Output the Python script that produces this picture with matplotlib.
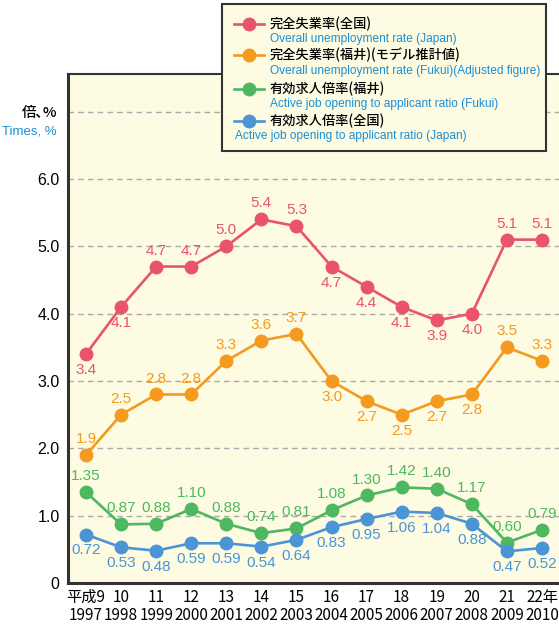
import matplotlib.pyplot as plt
from matplotlib.lines import Line2D
from matplotlib.patches import Rectangle

# 平成9 (1997) - 22 (2010)
heisei = ["平成9", "10", "11", "12", "13", "14", "15", "16", "17", "18", "19", "20", "21", "22年"]
years = ["1997", "1998", "1999", "2000", "2001", "2002", "2003", "2004", "2005", "2006", "2007", "2008", "2009", "2010"]

unemp_japan = [3.4, 4.1, 4.7, 4.7, 5.0, 5.4, 5.3, 4.7, 4.4, 4.1, 3.9, 4.0, 5.1, 5.1]
unemp_fukui = [1.9, 2.5, 2.8, 2.8, 3.3, 3.6, 3.7, 3.0, 2.7, 2.5, 2.7, 2.8, 3.5, 3.3]
jobs_fukui = [1.35, 0.87, 0.88, 1.10, 0.88, 0.74, 0.81, 1.08, 1.30, 1.42, 1.40, 1.17, 0.60, 0.79]
jobs_japan = [0.72, 0.53, 0.48, 0.59, 0.59, 0.54, 0.64, 0.83, 0.95, 1.06, 1.04, 0.88, 0.47, 0.52]

# label above (+1) or below (-1) the point
pos_unemp_japan = [-1, -1, 1, 1, 1, 1, 1, -1, -1, -1, -1, -1, 1, 1]
pos_unemp_fukui = [1, 1, 1, 1, 1, 1, 1, -1, -1, -1, -1, -1, 1, 1]
pos_jobs_fukui = [1] * 14
pos_jobs_japan = [-1] * 14

legend_jp = ["完全失業率(全国)", "完全失業率(福井)(モデル推計値)", "有効求人倍率(福井)", "有効求人倍率(全国)"]
legend_en = ["Overall unemployment rate (Japan)", "Overall unemployment rate (Fukui)(Adjusted figure)",
             "Active job opening to applicant ratio (Fukui)", "Active job opening to applicant ratio (Japan)"]

RED = "#e9546b"
ORANGE = "#f39a1f"
GREEN = "#4db85f"
BLUE = "#4b94d6"
TXTBLUE = "#1a8fd6"
BG = "#fdfbe2"

NUM = ["Liberation Sans Narrow", "Liberation Sans", "DejaVu Sans"]
JP = ["Noto Sans CJK JP", "DejaVu Sans"]

W, H = 559, 626
fig = plt.figure(figsize=(W / 100, H / 100), dpi=100)


def fx(x):
    return x / W


def fy(y):
    return 1 - y / H


ax = fig.add_axes([fx(68), fy(583), 1 - fx(68), fy(74) - fy(583)])
ax.set_facecolor(BG)
x = list(range(len(years)))

series = [(unemp_japan, RED, pos_unemp_japan, "{:.1f}"),
          (unemp_fukui, ORANGE, pos_unemp_fukui, "{:.1f}"),
          (jobs_fukui, GREEN, pos_jobs_fukui, "{:.2f}"),
          (jobs_japan, BLUE, pos_jobs_japan, "{:.2f}")]

for vals, col, pos, fmt in series:
    ax.plot(x, vals, color=col, lw=1.9, marker="o", ms=9, zorder=3, clip_on=False)
    for xi, v, p in zip(x, vals, pos):
        ax.annotate(fmt.format(v), (xi, v), xytext=(0, 11.5 * p), textcoords="offset points",
                    ha="center", va="center", color=col, fontsize=11, family=NUM, zorder=4)

ax.set_xlim(-0.513, 13.485)
ax.set_ylim(0, 7.56)
for yv in range(1, 8):
    ax.axhline(yv, color="#aaaaaa", lw=1, ls=(0, (4, 3)), zorder=1)

ax.set_yticks([0, 1, 2, 3, 4, 5, 6])
ax.set_yticklabels(["0", "1.0", "2.0", "3.0", "4.0", "5.0", "6.0"], family=NUM, fontsize=11.5)
ax.set_xticks(x)
ax.set_xticklabels([a + "\n" + b for a, b in zip(heisei, years)],
                   family=["Liberation Sans Narrow", "Noto Sans CJK JP", "DejaVu Sans"],
                   fontsize=11, linespacing=1.1)
ax.tick_params(length=0, pad=6)
ax.tick_params(axis="x", pad=4)

for s in ["left", "bottom"]:
    ax.spines[s].set_color("#333333")
    ax.spines[s].set_linewidth(2.2)
ax.spines["top"].set_color("#333333")
ax.spines["top"].set_linewidth(1.5)
ax.spines["right"].set_visible(False)

fig.text(fx(57), fy(113), "倍､%", ha="right", va="center", fontsize=10.5, family=JP, weight="medium")
fig.text(fx(57), fy(131), "Times, %", ha="right", va="center", fontsize=9.5, color=TXTBLUE, family=NUM)

# legend box
fig.patches.append(Rectangle((fx(222), fy(151)), fx(546) - fx(222), fy(4) - fy(151), transform=fig.transFigure,
                             facecolor=BG, edgecolor="#333333", lw=1.5, zorder=5))
rows_jp = [24, 55, 89, 121]
rows_en = [39, 71, 104, 136]
for i, (col, jp, en) in enumerate(zip([RED, ORANGE, GREEN, BLUE], legend_jp, legend_en)):
    yy = fy(rows_jp[i])
    fig.lines.append(Line2D([fx(234), fx(264)], [yy, yy], transform=fig.transFigure, color=col, lw=1.9, zorder=6))
    fig.lines.append(Line2D([fx(249)], [yy], transform=fig.transFigure, color=col, marker="o", ms=9, zorder=6))
    fig.text(fx(270), yy, jp, ha="left", va="center", fontsize=9.5, family=JP, weight="medium", zorder=7)
    fig.text(fx(270 if i < 3 else 235), fy(rows_en[i]), en, ha="left", va="center", fontsize=8.6,
             color=TXTBLUE, family=NUM, zorder=7)

fig.savefig("out.png", dpi=100)
